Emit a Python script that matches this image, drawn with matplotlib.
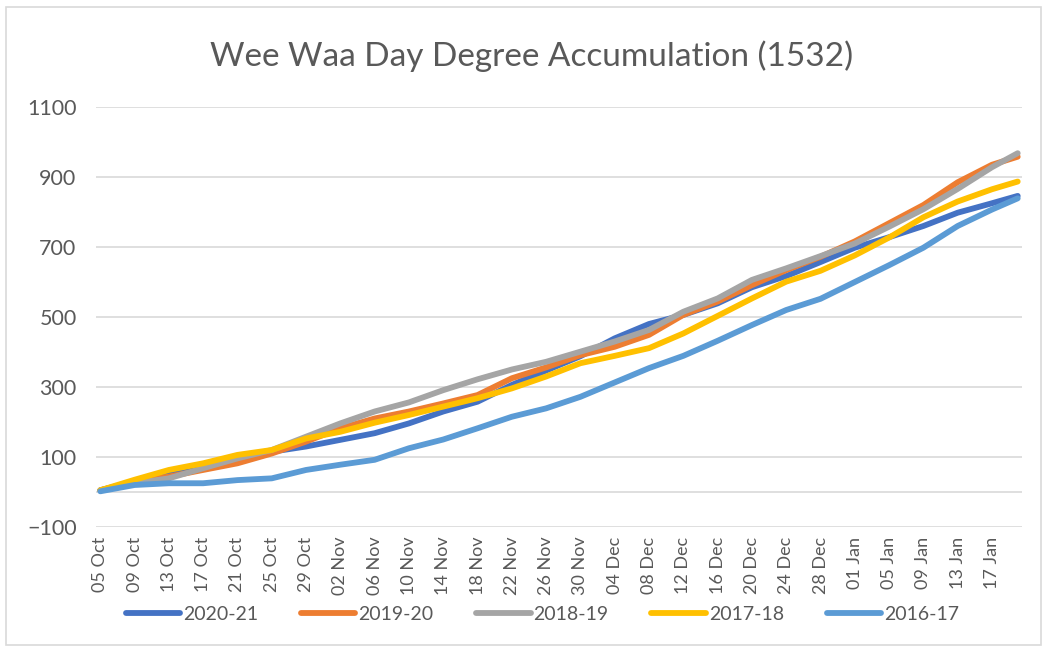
import numpy as np
import pandas as pd
import matplotlib
matplotlib.use("Agg")
import matplotlib.pyplot as plt
from matplotlib.patches import Rectangle

plt.rcParams['font.family'] = ['Lato', 'DejaVu Sans']

# sample days (every 4 days + last day), season axis Oct -> Jan
dates = ["2020-10-05", "2020-10-09", "2020-10-13", "2020-10-17", "2020-10-21",
         "2020-10-25", "2020-10-29", "2020-11-02", "2020-11-06", "2020-11-10",
         "2020-11-14", "2020-11-18", "2020-11-22", "2020-11-26", "2020-11-30",
         "2020-12-04", "2020-12-08", "2020-12-12", "2020-12-16", "2020-12-20",
         "2020-12-24", "2020-12-28", "2021-01-01", "2021-01-05", "2021-01-09",
         "2021-01-13", "2021-01-17", "2021-01-20"]

s2020 = [5, 30, 49, 73, 96, 115, 130, 149, 168, 196, 230, 258, 306, 347,
         388, 439, 480, 506, 539, 585, 617, 657, 698, 728, 760, 798, 825, 846]
s2019 = [5, 30, 44, 63, 82, 110, 144, 182, 210, 230, 253, 277, 325, 356,
         391, 415, 449, 506, 544, 591, 634, 672, 716, 768, 820, 885, 935, 958]
s2018 = [5, 25, 39, 68, 96, 120, 158, 196, 230, 256, 291, 322, 350, 372,
         401, 430, 463, 515, 553, 606, 639, 674, 710, 758, 808, 866, 928, 968]
s2017 = [5, 35, 63, 82, 106, 120, 153, 172, 198, 220, 244, 268, 296, 330,
         368, 389, 411, 453, 503, 553, 601, 632, 676, 727, 785, 830, 865, 887]
s2016 = [2, 20, 25, 25, 34, 39, 63, 78, 92, 125, 150, 182, 215, 239,
         272, 313, 354, 389, 432, 477, 520, 552, 600, 648, 698, 760, 807, 839]

names = ["2020-21", "2019-20", "2018-19", "2017-18", "2016-17"]
colors = ["#4472C4", "#ED7D31", "#A5A5A5", "#FFC000", "#5B9BD5"]

x = pd.to_datetime(dates)

fig = plt.figure(figsize=(10.43, 6.48), dpi=100)
fig.patches.append(Rectangle((6 / 1043, 0.004), 1 - 8 / 1043, 1 - 10 / 648,
                             transform=fig.transFigure, fill=False,
                             edgecolor="#D9D9D9", linewidth=1.2))
ax = fig.add_axes([96 / 1043, 1 - 527 / 648, 926 / 1043, 420 / 648])

for vals, name, c in zip([s2020, s2019, s2018, s2017, s2016], names, colors):
    ax.plot(x, vals, color=c, linewidth=4.2, label=name,
            solid_capstyle="round", solid_joinstyle="round")

ax.set_ylim(-100, 1100)
ax.set_yticks(np.arange(-100, 1101, 200))
ax.set_xlim(pd.Timestamp("2020-10-04 12:00"), pd.Timestamp("2021-01-20 12:00"))
ticks = pd.date_range("2020-10-05", "2021-01-17", freq="4D")
ax.set_xticks(ticks)
ax.set_xticklabels([t.strftime("%d %b") for t in ticks], rotation=90,
                   fontsize=13)

ax.grid(axis="y", color="#D9D9D9", linewidth=1.2)
ax.axhline(0, color="#D9D9D9", linewidth=1.2, zorder=0.5)
ax.set_axisbelow(True)
for sp in ax.spines.values():
    sp.set_visible(False)
ax.tick_params(length=0, colors="#595959")
ax.tick_params(axis="y", pad=14, labelsize=15.5)
ax.tick_params(axis="x", pad=7)

fig.text(0.51, 0.913, "Wee Waa Day Degree Accumulation (1532)", ha="center",
         va="center", fontsize=24, color="#595959")

fig.legend(loc="center", bbox_to_anchor=(0.52, 0.052), ncol=5, frameon=False,
           fontsize=14, labelcolor="#595959", handlelength=2.8,
           handletextpad=0.15, columnspacing=2.2)

fig.savefig("out.png", dpi=100)
